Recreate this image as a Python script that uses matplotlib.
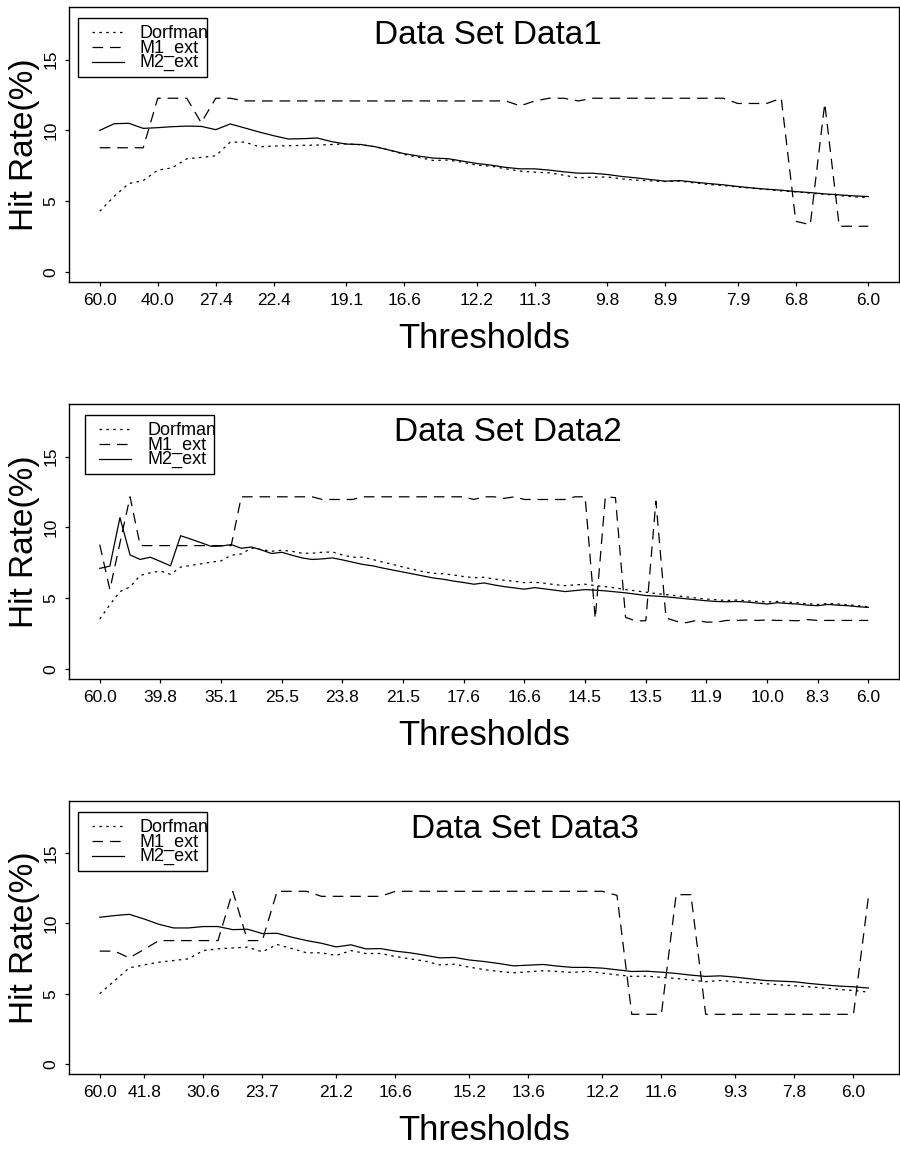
import matplotlib
matplotlib.use('Agg')
import matplotlib.pyplot as plt
from matplotlib.patches import Rectangle

plt.rcParams['font.family'] = ['Liberation Sans', 'DejaVu Sans']

series_names = ['Dorfman', 'M1_ext', 'M2_ext']

# ---- Data1 ----
d1_tick_idx = [0, 4, 8, 12, 17, 21, 26, 30, 35, 39, 44, 48, 53]
d1_tick_lab = ['60.0', '40.0', '27.4', '22.4', '19.1', '16.6', '12.2', '11.3',
               '9.8', '8.9', '7.9', '6.8', '6.0']
d1_dorfman = [4.28, 5.34, 6.24, 6.45, 7.19, 7.35, 7.99, 8.09, 8.2, 9.17, 9.17, 8.84,
              8.89, 8.91, 8.94, 8.96, 9.0, 9.05, 8.98, 8.84, 8.6, 8.3, 8.09, 7.87,
              7.9, 7.75, 7.54, 7.47, 7.28, 7.12, 7.04, 7.0, 6.83, 6.64, 6.69, 6.71,
              6.57, 6.48, 6.43, 6.38, 6.41, 6.29, 6.17, 6.1, 6.0, 5.91, 5.82, 5.72,
              5.65, 5.56, 5.48, 5.39, 5.3, 5.25]
d1_m1 = [8.77, 8.77, 8.77, 8.77, 12.27, 12.27, 12.27, 10.54, 12.27, 12.27,
         12.08, 12.08, 12.08, 12.08, 12.08, 12.08, 12.08, 12.08, 12.08, 12.08,
         12.08, 12.08, 12.08, 12.08, 12.08, 12.08, 12.08, 12.08, 12.08, 11.73,
         12.08, 12.27, 12.27, 12.08, 12.27, 12.27, 12.27, 12.27, 12.27, 12.27,
         12.27, 12.27, 12.27, 12.27, 11.9, 11.9, 11.9, 12.27, 3.57, 3.33,
         11.9, 3.22, 3.22, 3.22]
d1_m2 = [10.0, 10.47, 10.5, 10.14, 10.19, 10.26, 10.3, 10.28, 10.05, 10.45, 10.17,
         9.88, 9.62, 9.39, 9.41, 9.46, 9.2, 9.03, 9.0, 8.84, 8.6, 8.35, 8.18, 8.04,
         8.0, 7.83, 7.66, 7.54, 7.38, 7.28, 7.28, 7.19, 7.07, 6.97, 6.97, 6.88,
         6.74, 6.64, 6.52, 6.41, 6.45, 6.34, 6.24, 6.15, 6.03, 5.93, 5.84, 5.77,
         5.67, 5.6, 5.51, 5.44, 5.37, 5.32]

# ---- Data2 ----
d2_tick_idx = [0, 6, 12, 18, 24, 30, 36, 42, 48, 54, 60, 66, 71, 76]
d2_tick_lab = ['60.0', '39.8', '35.1', '25.5', '23.8', '21.5', '17.6', '16.6',
               '14.5', '13.5', '11.9', '10.0', '8.3', '6.0']
d2_dorfman = [3.52, 4.53, 5.46, 5.79, 6.6, 6.79, 6.91, 6.68, 7.19, 7.31, 7.42, 7.54,
              7.63, 8.03, 8.12, 8.54, 8.43, 8.31, 8.38, 8.31, 8.17, 8.17, 8.24, 8.26,
              8.05, 7.89, 7.89, 7.73, 7.54, 7.38, 7.19, 7.03, 6.86, 6.75, 6.72, 6.63,
              6.52, 6.44, 6.47, 6.35, 6.26, 6.19, 6.09, 6.12, 6.05, 5.95, 5.88, 5.93,
              5.98, 5.88, 5.81, 5.72, 5.6, 5.51, 5.42, 5.32, 5.25, 5.16, 5.09, 5.0,
              4.93, 4.88, 4.83, 4.86, 4.81, 4.76, 4.72, 4.76, 4.72, 4.67, 4.6, 4.55,
              4.62, 4.58, 4.53, 4.46, 4.39]
d2_m1 = [8.78, 5.6, 8.9, 12.16, 8.71, 8.71, 8.71, 8.71, 8.71, 8.71, 8.71, 8.71,
         8.71, 8.71, 12.16, 12.16, 12.16, 12.16, 12.16, 12.16, 12.16, 12.16,
         11.97, 11.97, 11.97, 11.97, 12.16, 12.16, 12.16, 12.16, 12.16, 12.16,
         12.16, 12.16, 12.16, 12.16, 12.16, 11.97, 12.16, 12.16, 12.05, 12.16,
         11.97, 11.97, 11.97, 11.97, 11.97, 12.16, 12.16, 3.55, 12.16, 12.1,
         3.64, 3.38, 3.4, 11.85, 3.6, 3.36, 3.26, 3.42, 3.3, 3.3, 3.42, 3.42,
         3.45, 3.42, 3.45, 3.42, 3.42, 3.4, 3.48, 3.42, 3.42, 3.42, 3.42, 3.42, 3.42]
d2_m2 = [7.1, 7.26, 10.69, 8.05, 7.73, 7.89, 7.59, 7.28, 9.41, 9.17, 8.92, 8.66,
         8.68, 8.78, 8.52, 8.61, 8.4, 8.15, 8.24, 8.03, 7.84, 7.73, 7.77, 7.84,
         7.7, 7.54, 7.38, 7.28, 7.12, 6.98, 6.84, 6.7, 6.56, 6.42, 6.33, 6.2, 6.1,
         5.98, 6.07, 5.93, 5.81, 5.72, 5.63, 5.74, 5.65, 5.56, 5.46, 5.53, 5.6,
         5.56, 5.51, 5.44, 5.37, 5.28, 5.18, 5.14, 5.09, 5.02, 4.95, 4.88, 4.81,
         4.76, 4.74, 4.76, 4.72, 4.65, 4.58, 4.67, 4.62, 4.58, 4.5, 4.46, 4.55,
         4.5, 4.46, 4.39, 4.34]

# ---- Data3 ----
d3_tick_idx = [0, 3, 7, 11, 16, 20, 25, 29, 34, 38, 43, 47, 51]
d3_tick_lab = ['60.0', '41.8', '30.6', '23.7', '21.2', '16.6', '15.2', '13.6',
               '12.2', '11.6', '9.3', '7.8', '6.0']
d3_dorfman = [5.0, 5.92, 6.84, 7.05, 7.24, 7.36, 7.48, 8.07, 8.19, 8.26, 8.31, 7.98,
              8.5, 8.21, 7.91, 7.91, 7.72, 8.07, 7.86, 7.86, 7.65, 7.48, 7.32, 7.05,
              7.1, 6.89, 6.72, 6.58, 6.49, 6.56, 6.63, 6.58, 6.51, 6.6, 6.46, 6.34,
              6.23, 6.25, 6.16, 6.08, 5.97, 5.85, 5.94, 5.85, 5.78, 5.71, 5.63, 5.56,
              5.49, 5.4, 5.3, 5.23, 5.11]
d3_m1 = [8.03, 8.03, 7.55, 8.15, 8.78, 8.78, 8.78, 8.78, 8.78, 12.29, 8.78, 8.78,
         12.29, 12.29, 12.29, 11.93, 11.93, 11.93, 11.93, 11.93, 12.29, 12.29,
         12.29, 12.29, 12.29, 12.29, 12.29, 12.29, 12.29, 12.29, 12.29, 12.29,
         12.29, 12.29, 12.29, 12.0, 3.53, 3.53, 3.53, 12.05, 12.05, 3.53, 3.53,
         3.53, 3.53, 3.53, 3.53, 3.53, 3.53, 3.53, 3.53, 3.53, 11.81]
d3_m2 = [10.44, 10.56, 10.65, 10.32, 9.94, 9.68, 9.68, 9.78, 9.78, 9.56, 9.59, 9.28,
         9.3, 9.02, 8.78, 8.59, 8.33, 8.48, 8.19, 8.21, 8.03, 7.91, 7.74, 7.55,
         7.58, 7.4, 7.29, 7.15, 6.98, 7.03, 7.08, 6.96, 6.87, 6.87, 6.82, 6.7,
         6.58, 6.6, 6.53, 6.44, 6.32, 6.23, 6.27, 6.18, 6.06, 5.94, 5.89, 5.85,
         5.73, 5.63, 5.54, 5.49, 5.4]

styles = [(0, (2.0, 3.5)), (0, (8.5, 5.5)), '-']

fig = plt.figure(figsize=(9, 11.53), dpi=100)

# axes boxes in pixels: (top, bottom)
boxes = [(7, 282), (404, 679), (801, 1074)]
W, H = 900.0, 1153.0

panels = [
    ('Data Set Data1', d1_dorfman, d1_m1, d1_m2, d1_tick_idx, d1_tick_lab, 0.505, 0.0),
    ('Data Set Data2', d2_dorfman, d2_m1, d2_m2, d2_tick_idx, d2_tick_lab, 0.529, 0.0088),
    ('Data Set Data3', d3_dorfman, d3_m1, d3_m2, d3_tick_idx, d3_tick_lab, 0.549, 0.0),
]

for (top, bot), (title, dorf, m1, m2, tidx, tlab, tx, ldx) in zip(boxes, panels):
    ax = fig.add_axes([69 / W, 1 - bot / H, 830 / W, (bot - top) / H])
    n = len(dorf)
    x = list(range(n))
    for ys, ls in zip([dorf, m1, m2], styles):
        ax.plot(x, ys, color='black', linestyle=ls, linewidth=0.9)

    span = n - 1
    ax.set_xlim(-0.04 * span, span * 1.04)
    ax.set_ylim(-0.72, 18.72)

    ax.set_xticks(tidx)
    ax.set_xticklabels(tlab, fontsize=12.5)
    ax.set_yticks([0, 5, 10, 15])
    ax.set_yticklabels(['0', '5', '10', '15'], fontsize=12.5, rotation=90, va='center')
    ax.tick_params(axis='x', length=3, width=0.9, pad=5)
    ax.tick_params(axis='y', length=3, width=0.9, pad=4.5)
    for sp in ax.spines.values():
        sp.set_linewidth(1.0)

    ax.set_xlabel('Thresholds', fontsize=25)
    ax.xaxis.set_label_coords(0.5, -0.145)
    ax.set_ylabel('Hit Rate(%)', fontsize=24)
    ax.yaxis.set_label_coords(-0.035, 0.5)

    ax.text(tx, 0.865, title, transform=ax.transAxes, fontsize=24,
            ha='center', va='baseline')

    # legend drawn R-style (text overflows the box slightly)
    ax.add_patch(Rectangle((0.0105 + ldx, 0.745), 0.156, 0.215, transform=ax.transAxes,
                           fill=False, edgecolor='black', linewidth=1.0))
    line_y = [0.908, 0.855, 0.800]
    text_y = [0.886, 0.834, 0.781]
    for name, ls, ly, ty in zip(series_names, styles, line_y, text_y):
        ax.plot([0.0277 + ldx, 0.0663 + ldx], [ly, ly], transform=ax.transAxes,
                color='black', linestyle=ls, linewidth=0.9, clip_on=False)
        ax.text(0.0855 + ldx, ty, name, transform=ax.transAxes, fontsize=13,
                ha='left', va='baseline')

fig.savefig('out.png', dpi=100)
